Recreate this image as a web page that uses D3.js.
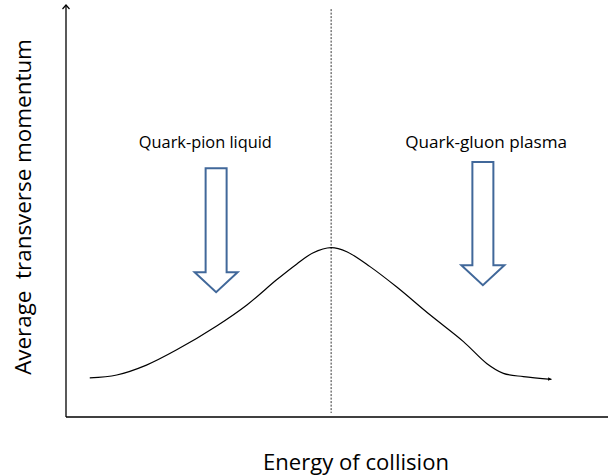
<!DOCTYPE html>
<html><head><meta charset="utf-8">
<script src="https://cdn.jsdelivr.net/npm/d3@7"></script>
<style>
html,body{margin:0;padding:0;background:#fff;}
svg{display:block;}
text{font-family:"Open Sans",Lato,sans-serif;fill:#000;white-space:pre;}
</style></head>
<body>
<script>
// Curve data (arbitrary units: energy 0-100, momentum 0-100)
const energy   = [4.4, 9.4, 14.9, 20.5, 27.9, 33.5, 39.0, 42.7, 45.7, 49.1, 52.0, 56.3, 61.2, 67.4, 73.6, 77.9, 81.0, 84.7, 89.9];
const momentum = [9.5, 10.2, 12.6, 16.3, 22.1, 27.2, 33.3, 37.1, 39.8, 41.1, 40.1, 36.5, 31.6, 24.8, 18.3, 13.0, 10.6, 9.8, 9.15];
const peakEnergy = 49.1;
// Annotations: label, arrow centre (energy), arrow top and tip (momentum)
const labels    = ["Quark-pion liquid", "Quark-gluon plasma"];
const labelX    = [25.8, 77.8];
const labelY    = [65.3, 65.3];
const arrowX    = [27.8, 77.2];
const arrowTop  = [60.4, 61.9];
const arrowTip  = [30.3, 32.0];
const xTitle = "Energy of collision";
const yTitle = "Average  transverse momentum";

const W = 608, H = 476;
const svg = d3.select("body").append("svg").attr("width", W).attr("height", H);
const x = d3.scaleLinear().domain([0, 100]).range([66, 606]);
const y = d3.scaleLinear().domain([0, 100]).range([417, 5]);

function fit(sel, target){
  const base = +sel.attr("font-size");
  const w = sel.node().getComputedTextLength();
  if (w > 0) sel.attr("font-size", (base * target / w).toFixed(2));
  return sel;
}

const defs = svg.append("defs");
defs.append("marker").attr("id","yarr").attr("viewBox","-6 -6 12 12")
  .attr("refX",0).attr("refY",0).attr("markerWidth",12).attr("markerHeight",12)
  .attr("markerUnits","userSpaceOnUse").attr("orient","auto")
  .append("path").attr("d","M-4,-3.5 L0,0 L-4,3.5").attr("fill","none").attr("stroke","#000").attr("stroke-width",1.2);
defs.append("marker").attr("id","carr").attr("viewBox","-6 -6 12 12")
  .attr("refX",0).attr("refY",0).attr("markerWidth",8).attr("markerHeight",8)
  .attr("markerUnits","userSpaceOnUse").attr("orient","auto")
  .append("path").attr("d","M-5,-2.5 L0,0 L-5,2.5 Z").attr("fill","#000");

// Axes (no ticks)
const yAxis = d3.axisLeft(y).tickValues([]).tickSizeOuter(0);
const xAxis = d3.axisBottom(x).tickValues([]).tickSizeOuter(0);
const gy = svg.append("g").attr("transform",`translate(${x(0)},0)`).call(yAxis);
gy.select(".domain").attr("d", `M0,${y(0)}V${y(100)}`).attr("stroke","#000").attr("stroke-width",1.3).attr("marker-end","url(#yarr)");
const gx = svg.append("g").attr("transform",`translate(0,${y(0)})`).call(xAxis);
gx.select(".domain").attr("d", `M${x(0)},0H${x(100)+2}`).attr("stroke","#000").attr("stroke-width",1.6);

// Dotted line at the peak
svg.append("line").attr("x1",x(peakEnergy)).attr("x2",x(peakEnergy))
  .attr("y1",y(99)).attr("y2",y(0)-4)
  .attr("stroke","#333").attr("stroke-width",1).attr("stroke-dasharray","2,1.5");

// Curve
const pts = energy.map((e,i)=>[e, momentum[i]]);
svg.append("path").datum(pts)
  .attr("d", d3.line().x(d=>x(d[0])).y(d=>y(d[1])).curve(d3.curveCatmullRom.alpha(0.5)))
  .attr("fill","none").attr("stroke","#000").attr("stroke-width",1.2).attr("marker-end","url(#carr)");

// Block arrows
const shaftHalf = 10.5, headHalf = 21.5, headH = 20;
arrowX.forEach((ax,i)=>{
  const cx = x(ax), t = y(arrowTop[i]), tip = y(arrowTip[i]), sb = tip - headH;
  const d = `M${cx-shaftHalf},${t} H${cx+shaftHalf} V${sb} H${cx+headHalf} L${cx},${tip} L${cx-headHalf},${sb} H${cx-shaftHalf} Z`;
  svg.append("path").attr("d",d).attr("fill","#fff").attr("stroke","#41689a").attr("stroke-width",2).attr("stroke-linejoin","miter");
});

// Labels
const labelW = [133, 162];
labels.forEach((l,i)=>{
  const t = svg.append("text").attr("x",x(labelX[i])).attr("y",y(labelY[i])).attr("text-anchor","middle")
    .attr("font-size",14).text(l);
  fit(t, labelW[i]);
});

// Axis titles
fit(svg.append("text").attr("x",356).attr("y",470).attr("text-anchor","middle").attr("font-size",18.5).text(xTitle), 186);
fit(svg.append("text").attr("transform","translate(31,207) rotate(-90)").attr("text-anchor","middle").attr("font-size",18.5).text(yTitle), 336);
</script>
</body></html>
